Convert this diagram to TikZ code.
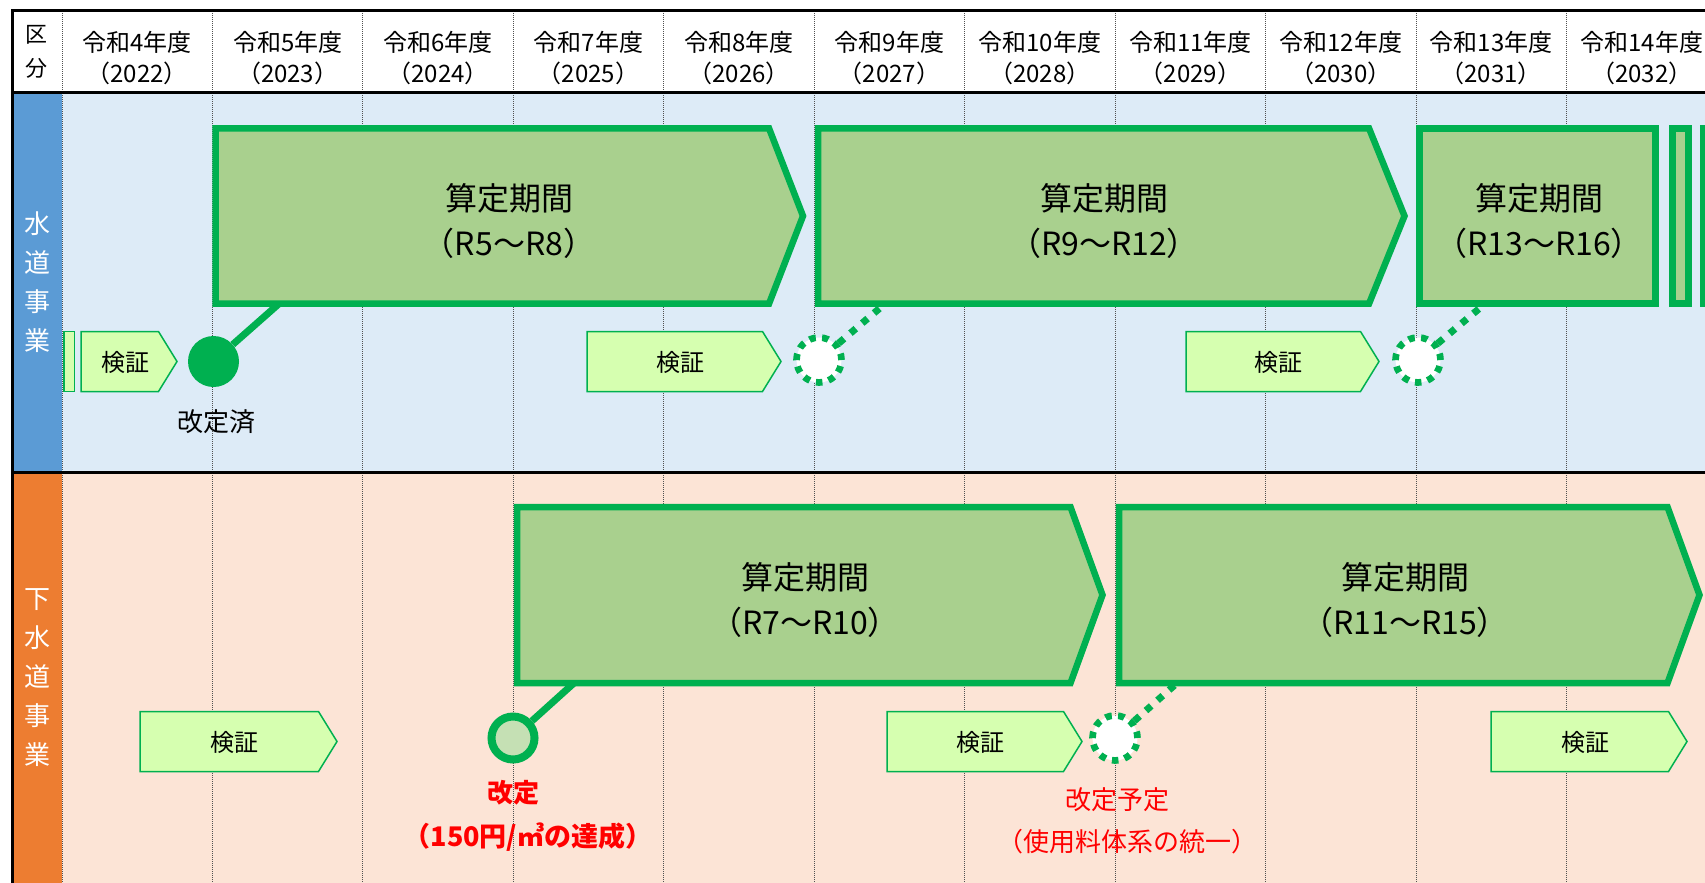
\documentclass[tikz,border=0pt]{standalone}
\usepackage{fontspec}
\setmainfont{Noto Sans CJK JP}
\usepackage{tikz}
\definecolor{gridgray}{RGB}{80,80,80}
\definecolor{waterbg}{RGB}{221,235,247}
\definecolor{sewerbg}{RGB}{252,228,214}
\definecolor{waterside}{RGB}{91,155,213}
\definecolor{sewerside}{RGB}{237,125,49}
\definecolor{linegreen}{RGB}{0,176,80}
\definecolor{periodfill}{RGB}{169,208,142}
\definecolor{kenshofill}{RGB}{214,255,176}
\definecolor{markfill}{RGB}{197,224,180}
\definecolor{notered}{RGB}{255,0,0}

\begin{document}
\begin{tikzpicture}[x=1pt, y=-1pt,
    gridline/.style={draw=gridgray, line width=1pt, dash pattern=on 1pt off 1pt},
    frameline/.style={draw=black, line width=3pt},
    periodbox/.style={draw=linegreen, fill=periodfill, line width=6.5pt},
    kenshobox/.style={draw=linegreen, fill=kenshofill, line width=1.5pt},
    yeartext/.style={inner sep=0pt, font=\fontsize{24}{30}\selectfont},
    kubuntext/.style={inner sep=0pt, align=center, font=\fontsize{22}{33.5}\selectfont},
    sidetext/.style={inner sep=0pt, align=center, text=white, font=\fontsize{26}{39}\selectfont},
    periodtext/.style={inner sep=0pt, align=center, font=\fontsize{32}{45}\selectfont},
    kenshotext/.style={inner sep=0pt, font=\fontsize{24}{30}\selectfont},
    marktext/.style={inner sep=0pt, font=\fontsize{26}{34}\selectfont},
    redtext/.style={marktext, text=notered},
    donemark/.style={circle, fill=linegreen, minimum size=51pt, inner sep=0pt},
    revmark/.style={circle, draw=linegreen, fill=markfill, line width=8pt, minimum size=43pt, inner sep=0pt},
    planmark/.style={circle, draw=linegreen, fill=white, line width=6.7pt, dash pattern=on 6.5pt off 6.35pt, minimum size=45pt, inner sep=0pt},
    solidlink/.style={draw=linegreen, line width=7pt},
    dottedlink/.style={draw=linegreen, line width=7pt, dash pattern=on 7pt off 8.5pt}]
    % Fix the page size
    \useasboundingbox (0,0) rectangle (1705,883);
    \clip (0,0) rectangle (1705,883);
    % Draw the backgrounds
    \fill[white] (0,0) rectangle (1705,92);
    \fill[waterbg] (62,92) rectangle (1705,472);
    \fill[sewerbg] (62,472) rectangle (1705,883);
    \fill[waterside] (12,92) rectangle (62,472);
    \fill[sewerside] (12,472) rectangle (62,883);
    % Draw the year columns
    \foreach \k in {0,...,10} \draw[gridline] ({62+150.45*\k},11) -- ({62+150.45*\k},883);
    \draw[frameline] (12,883) -- (12,11) -- (1705,11);
    \draw[frameline] (12,92) -- (1705,92);
    \draw[frameline] (12,472) -- (1705,472);
    % Header labels
    \node[kubuntext] (kubun) at (36.5,52) {区\\分};
    \foreach \k in {0,...,10} {
        \pgfmathsetmacro{\xc}{62+150.45*(\k+0.5)}
        \pgfmathtruncatemacro{\rw}{4+\k}
        \pgfmathtruncatemacro{\yr}{2022+\k}
        \node[yeartext] (era\k) at (\xc,42) {令和\rw 年度};
        \node[yeartext] (ad\k) at (\xc,73) {（\yr{}）};
    }
    \node[sidetext] (water) at (37,282.5) {水\\道\\事\\業};
    \node[sidetext] (sewer) at (37,678) {下\\水\\道\\事\\業};
    % Water periods
    \draw[periodbox] (215.5,128.3) -- (769,128.3) -- (803,216) -- (769,303.7) -- (215.5,303.7) -- cycle;
    \draw[periodbox] (818,128.3) -- (1369,128.3) -- (1404.5,216) -- (1369,303.7) -- (818,303.7) -- cycle;
    \draw[periodbox] (1419.7,128.3) rectangle (1655.3,303.7);
    \draw[periodbox] (1672.5,128.3) rectangle (1688.3,303.7);
    \draw[periodbox] (1703,128.3) rectangle (1760,303.7);
    \node[periodtext] (wp1) at (509,221) {算定期間\\（R5～R8）};
    \node[periodtext] (wp2) at (1104,221) {算定期間\\（R9～R12）};
    \node[periodtext] (wp3) at (1539,221) {算定期間\\（R13～R16）};
    % Sewer periods
    \draw[periodbox] (517,507) -- (1070.5,507) -- (1102.5,595) -- (1070.5,683) -- (517,683) -- cycle;
    \draw[periodbox] (1119,507) -- (1667.5,507) -- (1699.5,595) -- (1667.5,683) -- (1119,683) -- cycle;
    \node[periodtext] (sp1) at (805,600) {算定期間\\（R7～R10）};
    \node[periodtext] (sp2) at (1405,600) {算定期間\\（R11～R15）};
    % Checks
    \draw[kenshobox] (63.75,331.5) rectangle (74.25,391.5);
    \foreach \xa/\xb/\ym/\nm in {81/177/361.5/wk1, 587/781/361.5/wk2, 1186/1379/361.5/wk3,
        140/337/741.5/sk1, 887/1082/741.5/sk2, 1491/1687/741.5/sk3} {
        \draw[kenshobox] (\xa,{\ym-30}) -- ({\xb-18.5},{\ym-30}) -- (\xb,\ym) -- ({\xb-18.5},{\ym+30}) -- (\xa,{\ym+30}) -- cycle;
        \node[kenshotext] (\nm) at ({(\xa+\xb)/2-4},{\ym+1}) {検証};
    }
    % Revisions
    \coordinate (wfoot1) at (279,303.7);
    \coordinate (wfoot2) at (885,303.7);
    \coordinate (wfoot3) at (1485,303.7);
    \coordinate (sfoot1) at (574,683);
    \coordinate (sfoot2) at (1177,683);
    \node[donemark] (wm1) at (213.5,361.5) {};
    \node[planmark] (wm2) at (819,360) {};
    \node[planmark] (wm3) at (1418,360) {};
    \node[revmark] (sm1) at (513,738) {};
    \node[planmark] (sm2) at (1115,738) {};
    \draw[solidlink] (wm1) -- (wfoot1);
    \draw[dottedlink] (wm2) -- (wfoot2);
    \draw[dottedlink] (wm3) -- (wfoot3);
    \draw[solidlink] (sm1) -- (sfoot1);
    \draw[dottedlink] (sm2) -- (sfoot2);
    % Revision labels
    \node[marktext] (wl1) at (216,422) {改定済};
    \node[redtext, font=\fontsize{26}{34}\selectfont\bfseries] (sl1) at (513,793) {改定};
    \node[redtext, font=\fontsize{27}{34}\selectfont\bfseries] (sl1note) at (528,837) {（150円/㎥の達成）};
    \node[redtext] (sl2) at (1117,800) {改定予定};
    \node[redtext] (sl2note) at (1127,842) {（使用料体系の統一）};
\end{tikzpicture}
\end{document}
